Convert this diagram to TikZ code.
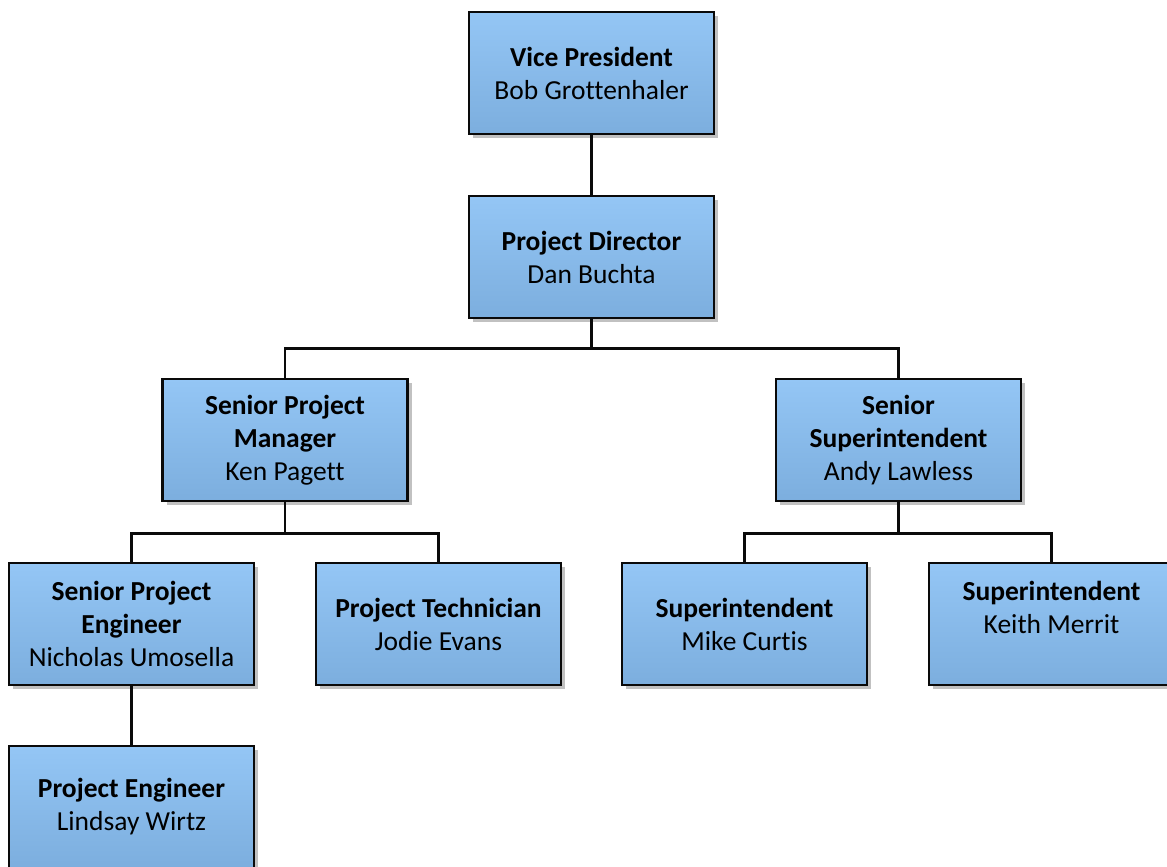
\documentclass[tikz,border=0pt]{standalone}
\usepackage{fontspec}
\setmainfont{Carlito}[Ligatures={NoCommon}]
\usepackage{tikz}
\usepackage{xcolor}
\usetikzlibrary{shapes,arrows,positioning,shadows}
\definecolor{boxtop}{RGB}{148, 198, 245}
\definecolor{boxbottom}{RGB}{124, 174, 222}
\definecolor{edge}{RGB}{10, 10, 10}
\tikzstyle{link} = [
    line width=2.8pt,
    draw=edge
]
\tikzstyle{post} = [
    rectangle,
    minimum width=245pt,
    minimum height=122pt,
    inner sep=0pt,
    align=center,
    draw=edge,
    line width=2.2pt,
    top color=boxtop,
    bottom color=boxbottom,
    drop shadow={shadow xshift=4pt, shadow yshift=-4pt, fill=black!30, opacity=0.8},
    font=\fontsize{27.5}{33}\selectfont
]

\begin{document}
\begin{tikzpicture}[x=1pt, y=-1pt]
    \useasboundingbox (0,0) rectangle (1167,867);
    \node[post] (vp)   at (591.5,73)  {\textbf{Vice President}\\Bob Grottenhaler};
    \node[post] (pd)   at (591.5,257) {\textbf{Project Director}\\Dan Buchta};
    \node[post] (spm)  at (285,440)   {\textbf{Senior Project}\\\textbf{Manager}\\Ken Pagett};
    \node[post] (ss)   at (898.5,440) {\textbf{Senior}\\\textbf{Superintendent}\\Andy Lawless};
    \node[post] (spe)  at (131.5,624) {\textbf{Senior Project}\\\textbf{Engineer}\\Nicholas Umosella};
    \node[post] (tech) at (438.5,624) {\textbf{Project Technician}\\Jodie Evans};
    \node[post] (supa) at (744.5,624) {\textbf{Superintendent}\\Mike Curtis};
    \node[post] (supb) at (1051.5,624) {\textbf{Superintendent}\\Keith Merrit\\\mbox{}};
    \node[post] (pe)   at (131.5,807) {\textbf{Project Engineer}\\Lindsay Wirtz};

    % connectors
    \draw[link] (vp.south) -- (pd.north);
    \draw[link] (pd.south) -- ++(0,29) -| (spm.north);
    \draw[link] (pd.south) -- ++(0,29) -| (ss.north);
    \draw[link] (spm.south) -- ++(0,31) -| (spe.north);
    \draw[link] (spm.south) -- ++(0,31) -| (tech.north);
    \draw[link] (ss.south) -- ++(0,31) -| (supa.north);
    \draw[link] (ss.south) -- ++(0,31) -| (supb.north);
    \draw[link] (spe.south) -- (pe.north);
\end{tikzpicture}
\end{document}
